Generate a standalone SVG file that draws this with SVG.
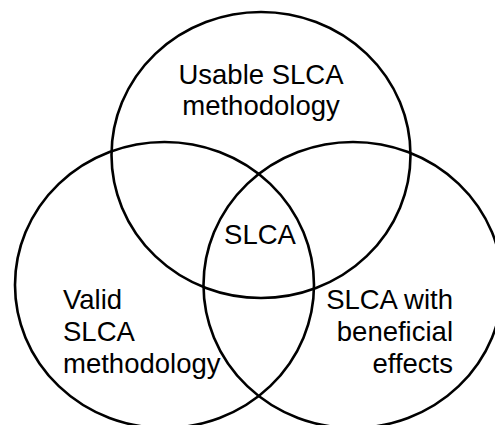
<svg xmlns="http://www.w3.org/2000/svg" width="495" height="425" viewBox="0 0 495 425">
<style>
.c{fill:none;stroke:#000;stroke-width:2.6}
.t{font-family:"Liberation Sans",Arial,sans-serif;font-size:27.5px;fill:#000}
</style>
<rect width="495" height="425" fill="#fff"/>
<g id="usable">
<ellipse class="c" cx="261" cy="155" rx="149.5" ry="143"/>
<text class="t" x="261" y="84" text-anchor="middle">Usable SLCA</text>
<text class="t" x="261" y="115" text-anchor="middle">methodology</text>
</g>
<g id="valid">
<ellipse class="c" cx="164.5" cy="285" rx="149.5" ry="143"/>
<text class="t" x="63" y="309">Valid</text>
<text class="t" x="63" y="341">SLCA</text>
<text class="t" x="63" y="373">methodology</text>
</g>
<g id="beneficial">
<ellipse class="c" cx="353" cy="285" rx="149.5" ry="143"/>
<text class="t" x="453" y="309" text-anchor="end">SLCA with</text>
<text class="t" x="453" y="341" text-anchor="end">beneficial</text>
<text class="t" x="453" y="373" text-anchor="end">effects</text>
</g>
<g id="center">
<text class="t" x="260" y="244" text-anchor="middle">SLCA</text>
</g>
</svg>
